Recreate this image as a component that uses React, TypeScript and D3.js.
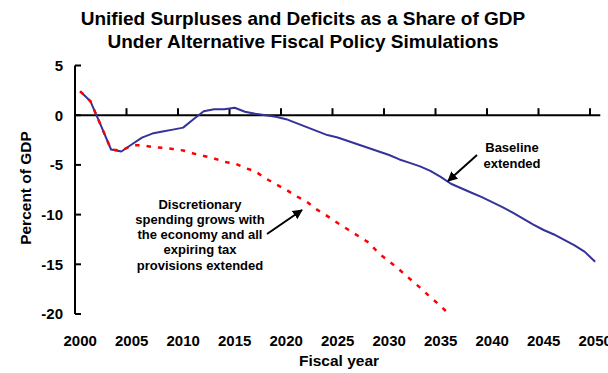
import React from "react";
import * as d3 from "d3";

const baselineYears = [
  2000, 2001, 2002, 2003, 2004, 2005, 2006, 2007, 2008, 2009, 2010, 2011, 2012, 2013, 2014, 2015, 2016,
  2017, 2018, 2019, 2020, 2021, 2022, 2023, 2024, 2025, 2026, 2027, 2028, 2029, 2030, 2031, 2032, 2033,
  2034, 2035, 2036, 2037, 2038, 2039, 2040, 2041, 2042, 2043, 2044, 2045, 2046, 2047, 2048, 2049, 2050,
];
const baselineValues = [
  2.4, 1.4, -1.0, -3.45, -3.65, -2.95, -2.25, -1.85, -1.65, -1.45, -1.25, -0.4, 0.4, 0.6, 0.6, 0.75, 0.35,
  0.15, 0.0, -0.15, -0.4, -0.8, -1.2, -1.6, -2.0, -2.25, -2.6, -2.95, -3.3, -3.65, -4.0, -4.45, -4.8, -5.15,
  -5.6, -6.2, -6.9, -7.35, -7.8, -8.25, -8.75, -9.25, -9.8, -10.4, -11.0, -11.55, -12.0, -12.55, -13.1, -13.75, -14.75,
];

const policyYears = [
  2000, 2001, 2002, 2003, 2004, 2005, 2006, 2007, 2008, 2009, 2010, 2011, 2012, 2013, 2014, 2015, 2016,
  2017, 2018, 2019, 2020, 2021, 2022, 2023, 2024, 2025, 2026, 2027, 2028, 2029, 2030, 2031, 2032, 2033,
  2034, 2035, 2036, 2037,
];
const policyValues = [
  2.4, 1.4, -1.0, -3.45, -3.55, -3.05, -3.0, -3.2, -3.27, -3.4, -3.55, -3.85, -4.1, -4.35, -4.7, -4.85, -5.3,
  -5.65, -6.35, -6.95, -7.5, -8.15, -8.7, -9.5, -10.15, -10.85, -11.5, -12.15, -12.8, -13.9, -14.7, -15.55, -16.45, -17.35,
  -18.3, -19.2, -20.2, -21.2,
];

const yTicks = [5, 0, -5, -10, -15, -20];
const xTickLabels = [2000, 2005, 2010, 2015, 2020, 2025, 2030, 2035, 2040, 2045, 2050];
const xTickMarks = [2004.5, 2009.5, 2014.5, 2019.5, 2024.5, 2029.5, 2034.5, 2039.5, 2044.5, 2049.5];

const titleLines = [
  "Unified Surpluses and Deficits as a Share of GDP",
  "Under Alternative Fiscal Policy Simulations",
];
const baselineNote = ["Baseline", "extended"];
const policyNote = [
  "Discretionary",
  "spending grows with",
  "the economy and all",
  "expiring tax",
  "provisions extended",
];

const FONT = "Arial, 'Liberation Sans', Helvetica, sans-serif";

export default function App() {
  const width = 608;
  const height = 373;
  const x = d3.scaleLinear().domain([1999.5, 2050.5]).range([75, 600.3]);
  const y = d3.scaleLinear().domain([-20, 5]).range([314, 65.5]);

  const line = d3
    .line<[number, number]>()
    .x((d) => x(d[0]))
    .y((d) => y(d[1]));

  const baseData: [number, number][] = baselineYears.map((yr, i) => [yr, baselineValues[i]]);
  const policyData: [number, number][] = policyYears.map((yr, i) => [yr, policyValues[i]]);

  return (
    <svg
      width={width}
      height={height}
      style={{ position: "absolute", left: 0, top: 0, background: "#fff" }}
      fontFamily={FONT}
    >
      <defs>
        <clipPath id="plotclip">
          <rect x={70} y={0} width={540} height={y(-20) + 1} />
        </clipPath>
        <marker id="arrowhead" viewBox="0 0 10 10" refX="9" refY="5" markerWidth="5" markerHeight="5" orient="auto">
          <path d="M0,0 L10,5 L0,10 z" fill="#000" />
        </marker>
      </defs>
      <rect width={width} height={height} fill="#fff" />

      {titleLines.map((t, i) => (
        <text key={t} x={303} y={25 + i * 23} textAnchor="middle" fontWeight="bold" fontSize={19}>
          {t}
        </text>
      ))}

      {/* y axis */}
      <line x1={x(1999.5)} x2={x(1999.5)} y1={y(5)} y2={y(-20)} stroke="#000" strokeWidth={2} />
      {yTicks.map((t) => (
        <g key={t}>
          <line x1={x(1999.5)} x2={x(1999.5) + 6} y1={y(t)} y2={y(t)} stroke="#000" strokeWidth={2} />
          <text x={63} y={y(t)} dy="0.36em" textAnchor="end" fontWeight="bold" fontSize={15}>
            {t}
          </text>
        </g>
      ))}

      {/* x axis at zero */}
      <line x1={x(1999.5)} x2={x(2050.5)} y1={y(0)} y2={y(0)} stroke="#000" strokeWidth={2} />
      {xTickMarks.map((t) => (
        <line key={t} x1={x(t)} x2={x(t)} y1={y(0)} y2={y(0) - 7} stroke="#000" strokeWidth={2} />
      ))}
      {xTickLabels.map((t) => (
        <text key={t} x={x(t)} y={346} textAnchor="middle" fontWeight="bold" fontSize={15}>
          {t}
        </text>
      ))}

      <text x={339} y={366} textAnchor="middle" fontWeight="bold" fontSize={15.5}>
        Fiscal year
      </text>
      <text
        transform={`translate(31,188) rotate(-90)`}
        textAnchor="middle"
        fontWeight="bold"
        fontSize={15.5}
      >
        Percent of GDP
      </text>

      {/* series */}
      <path d={line(baseData) || ""} fill="none" stroke="#333399" strokeWidth={2} strokeLinejoin="round" />
      <path
        d={line(policyData) || ""}
        fill="none"
        stroke="#ff0000"
        strokeWidth={2.5}
        strokeDasharray="4.5 7"
        clipPath="url(#plotclip)"
      />

      {/* annotations */}
      {baselineNote.map((t, i) => (
        <text key={t} x={512} y={152 + i * 15.5} textAnchor="middle" fontWeight="bold" fontSize={13}>
          {t}
        </text>
      ))}
      <line x1={477} y1={155} x2={448} y2={181} stroke="#000" strokeWidth={2} markerEnd="url(#arrowhead)" />

      {policyNote.map((t, i) => (
        <text key={t} x={200} y={208.5 + i * 15.25} textAnchor="middle" fontWeight="bold" fontSize={13}>
          {t}
        </text>
      ))}
      <line x1={267} y1={234} x2={302} y2={210} stroke="#000" strokeWidth={2} markerEnd="url(#arrowhead)" />
    </svg>
  );
}
